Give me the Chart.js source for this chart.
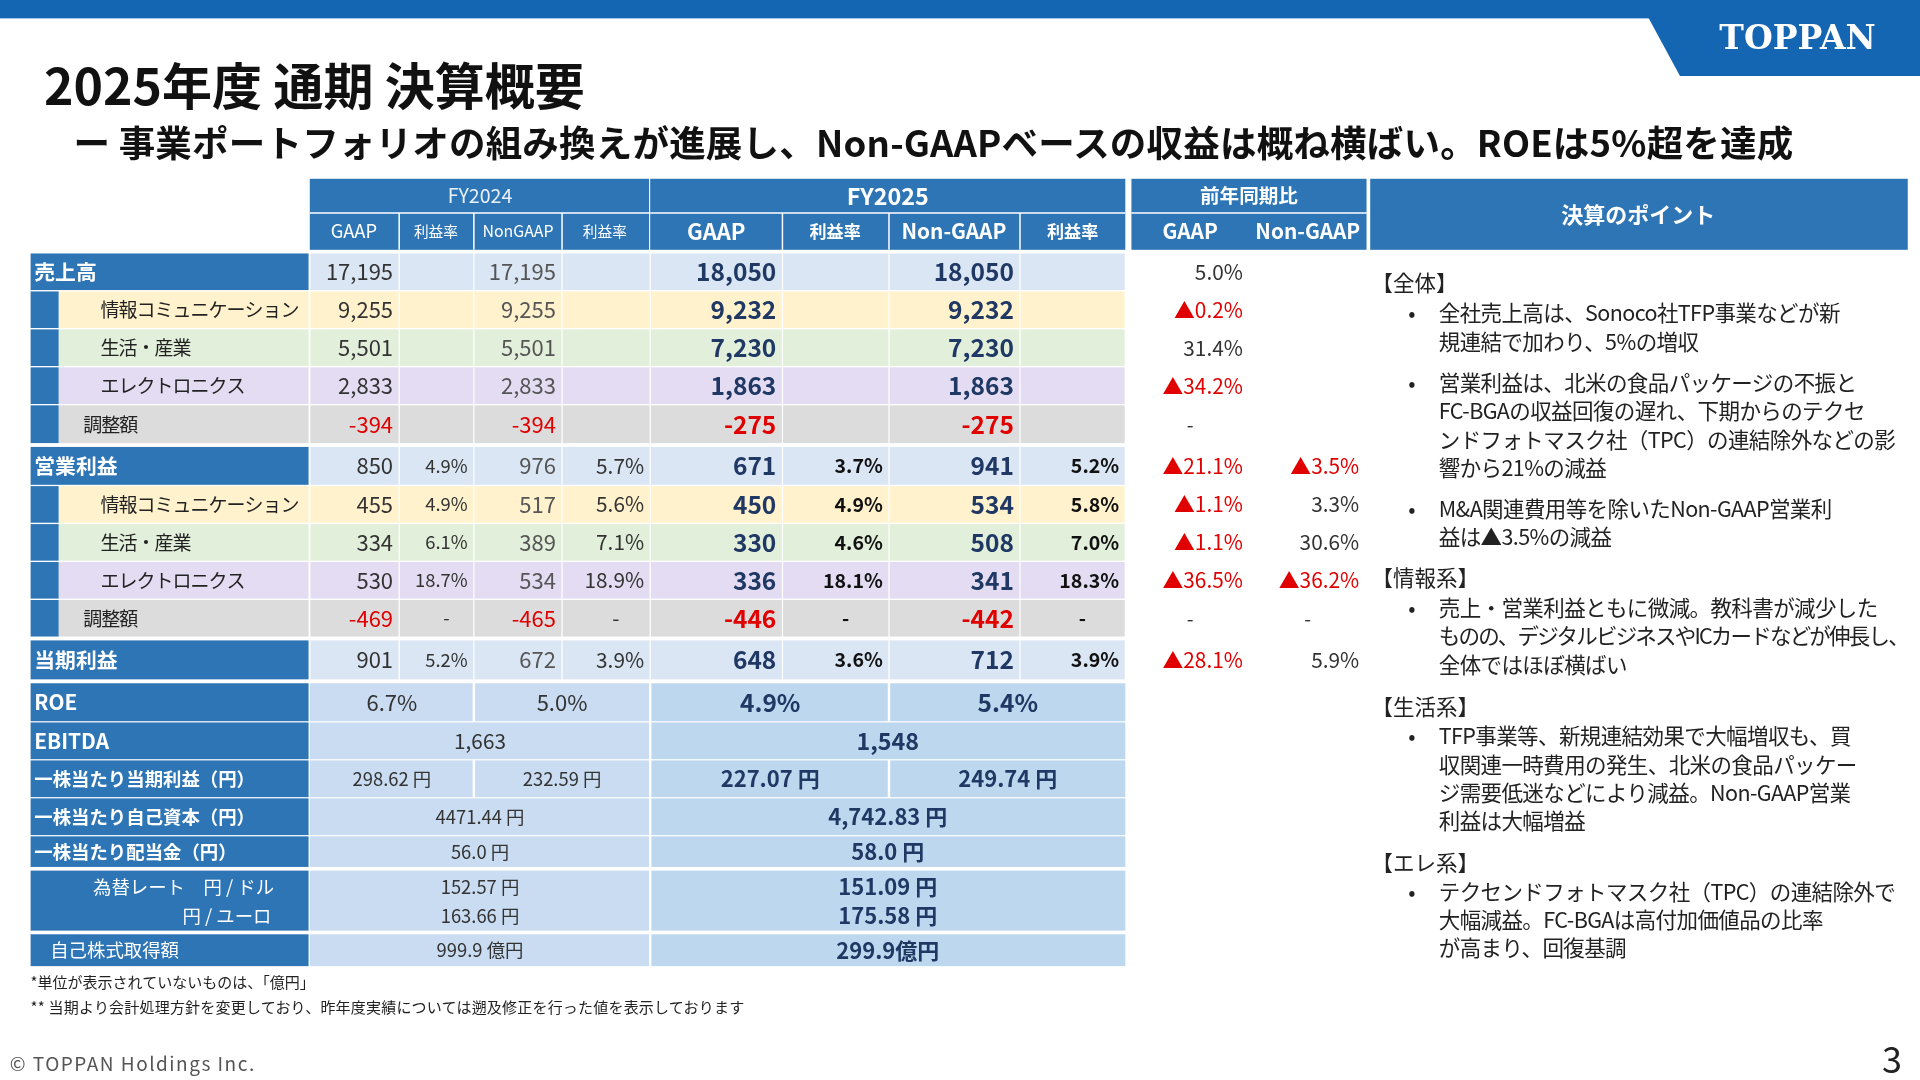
<!DOCTYPE html>
<html><head><meta charset="utf-8">
<script src="https://cdn.jsdelivr.net/npm/chart.js@4.4.1/dist/chart.umd.min.js"></script>
<style>
html,body{margin:0;padding:0;width:1920px;height:1080px;overflow:hidden;background:#fff;font-family:"Noto Sans CJK JP","Noto Sans",sans-serif;}
#c{position:absolute;left:0;top:0;}
.t{position:absolute;white-space:nowrap;color:#222;}
</style></head><body>
<canvas id="c" width="1920" height="1080"></canvas>
<div id="ov"></div>
<script>
// ---- data ----
const rowLabels=['売上高','情報コミュニケーション','生活・産業','エレクトロニクス','調整額','営業利益','情報コミュニケーション','生活・産業','エレクトロニクス','調整額','当期利益'];
const rowKinds=['main','info','life','elec','adj','main','info','life','elec','adj','main'];
const fy24Gaap=['17,195','9,255','5,501','2,833','-394','850','455','334','530','-469','901'];
const fy24GaapMargin=['','','','','','4.9%','4.9%','6.1%','18.7%','-','5.2%'];
const fy24Non=['17,195','9,255','5,501','2,833','-394','976','517','389','534','-465','672'];
const fy24NonMargin=['','','','','','5.7%','5.6%','7.1%','18.9%','-','3.9%'];
const fy25Gaap=['18,050','9,232','7,230','1,863','-275','671','450','330','336','-446','648'];
const fy25GaapMargin=['','','','','','3.7%','4.9%','4.6%','18.1%','-','3.6%'];
const fy25Non=['18,050','9,232','7,230','1,863','-275','941','534','508','341','-442','712'];
const fy25NonMargin=['','','','','','5.2%','5.8%','7.0%','18.3%','-','3.9%'];
const yoyGaap=['5.0%','▲0.2%','31.4%','▲34.2%','-','▲21.1%','▲1.1%','▲1.1%','▲36.5%','-','▲28.1%'];
const yoyNon=['','','','','','▲3.5%','3.3%','30.6%','▲36.2%','-','5.9%'];
const roe=['6.7%','5.0%','4.9%','5.4%'];
const ebitda=['1,663','1,548'];
const eps=['298.62 円','232.59 円','227.07 円','249.74 円'];
const bps=['4471.44 円','4,742.83 円'];
const dps=['56.0 円','58.0 円'];
const fxUsd=['152.57 円','151.09 円'];
const fxEur=['163.66 円','175.58 円'];
const buyback=['999.9 億円','299.9億円'];
const points=[
 ['h','【全体】',231],
 ['b','全社売上高は、Sonoco社TFP事業などが新',255],['c','規連結で加わり、5%の増収',279],
 ['b','営業利益は、北米の食品パッケージの不振と',312],['c','FC-BGAの収益回復の遅れ、下期からのテクセ',335],['c','ンドフォトマスク社（TPC）の連結除外などの影',359],['c','響から21%の減益',382],
 ['b','M&A関連費用等を除いたNon-GAAP営業利',415],['c','益は▲3.5%の減益',438],
 ['h','【情報系】',472],
 ['b','売上・営業利益ともに微減。教科書が減少した',496],['c','ものの、デジタルビジネスやICカードなどが伸長し、',519,'-1.8px'],['c','全体ではほぼ横ばい',543],
 ['h','【生活系】',577],
 ['b','TFP事業等、新規連結効果で大幅増収も、買',601],['c','収関連一時費用の発生、北米の食品パッケー',624],['c','ジ需要低迷などにより減益。Non-GAAP営業',647],['c','利益は大幅増益',670],
 ['h','【エレ系】',704],
 ['b','テクセンドフォトマスク社（TPC）の連結除外で',728],['c','大幅減益。FC-BGAは高付加価値品の比率',751],['c','が高まり、回復基調',774]
];
// ---- layout ----
const S=1920/1568;
const C=[25,253,326,387,459,531,639,726,833,919,924,1020,1116];
const rowTop=[207,238,269,300,331,365,397,428,459,490,523];
const rowBot=[237,268,299,330,362,396,427,458,489,520,555];
const kindBg={main:'#dae6f4',info:'#fff2cc',life:'#e2efda',elec:'#e4dcf2',adj:'#dcdcdc'};
const BLUE='#2e75b6',NAVY='#1f3864',RED='#e00000',DARK='#333';

const ov=document.getElementById('ov');
function ht(txt,x,yc,size,opts={}){const d=document.createElement('div');d.className='t';d.textContent=txt;
 d.style.left=(x*S)+'px';d.style.top=((yc)*S-size*0.72)+'px';d.style.fontSize=size+'px';d.style.lineHeight=(size*1.44)+'px';
 if(opts.bold)d.style.fontWeight='bold';if(opts.color)d.style.color=opts.color;if(opts.ls)d.style.letterSpacing=opts.ls;
 ov.appendChild(d);return d;}
ht('2025年度 通期 決算概要',36,68,50,{bold:true,color:'#111'});
ht('ー 事業ポートフォリオの組み換えが進展し、Non-GAAPベースの収益は概ね横ばい。ROEは5%超を達成',60,116,36.5,{bold:true,color:'#111',ls:'0.2px'});
points.forEach(p=>{ if(p[0]==='h')ht(p[1],1120,p[2],21.5); else { if(p[0]==='b')ht('•',1150,p[2],21.5); ht(p[1],1175,p[2],21.5,{ls:p[3]||'-0.6px'});} });
ht('*単位が表示されていないものは、「億円」',25,802,15);
ht('** 当期より会計処理方針を変更しており、昨年度実績については遡及修正を行った値を表示しております',25,822,15,{ls:'0.2px'});
ht('© TOPPAN Holdings Inc.',8,868,19,{color:'#555',ls:'1.5px'});
ht('3',1537,864,36,{color:'#222'});

const tablePlugin={id:'tbl',afterDraw(ch){
 const ctx=ch.ctx,xs=ch.scales.x,ys=ch.scales.y;
 const X=v=>xs.getPixelForValue(v),Y=v=>ys.getPixelForValue(v);
 const rect=(x0,y0,x1,y1,c)=>{ctx.fillStyle=c;ctx.fillRect(X(x0),Y(y0),X(x1)-X(x0),Y(y1)-Y(y0));};
 const F=(sz,b)=>(b?'bold ':'')+(sz*S).toFixed(1)+'px "Noto Sans CJK JP","Noto Sans",sans-serif';
 const tx=(s,x,y,al,sz,b,col,ls)=>{ctx.font=F(sz,b);ctx.fillStyle=col;ctx.textAlign=al;ctx.textBaseline='middle';ctx.letterSpacing=ls||'0px';ctx.fillText(s,X(x),Y(y));ctx.letterSpacing='0px';};
 const col=(s,def)=>(s.startsWith('-')&&s.length>1)||s.startsWith('▲')?RED:def;
 rect(0,0,1568,15,'#1465b2');
 ctx.fillStyle='#1465b2';ctx.beginPath();ctx.moveTo(X(1346),Y(14));ctx.lineTo(X(1568),Y(14));ctx.lineTo(X(1568),Y(62));ctx.lineTo(X(1372),Y(62));ctx.closePath();ctx.fill();
 ctx.font='bold '+(27*S)+'px "DejaVu Serif","Liberation Serif",serif';ctx.fillStyle='#fff';ctx.textAlign='center';ctx.textBaseline='middle';ctx.fillText('TOPPAN',X(1468),Y(33));
 rect(253,146,530,204,BLUE);rect(531,146,919,204,BLUE);rect(924,146,1116,204,BLUE);rect(1119,146,1558,204,BLUE);
 ctx.strokeStyle='#fff';ctx.lineWidth=1.5;
 const ln=(x0,y0,x1,y1)=>{ctx.beginPath();ctx.moveTo(X(x0),Y(y0));ctx.lineTo(X(x1),Y(y1));ctx.stroke();};
 ln(253,174,530,174);ln(531,174,919,174);ln(924,174,1116,174);
 [326,387,459].forEach(x=>ln(x,174,x,204));[639,726,833].forEach(x=>ln(x,174,x,204));
 tx('FY2024',392,160,'center',16,false,'#e8f0fa');tx('FY2025',725,160,'center',19,true,'#fff');tx('前年同期比',1020,160,'center',16,true,'#fff');
 tx('決算のポイント',1338,175,'center',18,true,'#fff');
 const sh=[['GAAP',289,15,false],['利益率',356,12,false],['NonGAAP',423,13,false],['利益率',494,12,false],['GAAP',585,18,true],['利益率',682,14,true],['Non-GAAP',779,17,true],['利益率',876,14,true],['GAAP',972,17,true],['Non-GAAP',1068,17,true]];
 sh.forEach(h=>tx(h[0],h[1],189,'center',h[2],h[3],'#fff'));
 rowLabels.forEach((lab,i)=>{
  const t=rowTop[i],b=rowBot[i],k=rowKinds[i],m=(t+b)/2,bg=kindBg[k];
  if(k==='main'){rect(25,t,252,b,BLUE);tx(lab,28,m,'left',17,true,'#fff');}
  else{rect(25,t,48,b,BLUE);rect(48,t,252,b,bg);tx(lab,k==='adj'?68:82,m,'left',15.5,false,'#222','-1px');}
  for(let j=1;j<9;j++) rect(C[j]+0.5,t,C[j+1]-0.5,b,bg);
  rect(25,b,919,b+1,'#fff');
  const r=(s,ci,sz,bld,def)=>{if(!s)return; if(s==='-'){tx(s,(C[ci]+C[ci+1])/2+8,m,'center',sz,bld,def);return;} tx(s,C[ci+1]-5,m,'right',sz,bld,col(s,def));};
  r(fy24Gaap[i],1,18,false,DARK);r(fy24GaapMargin[i],2,15,false,DARK);r(fy24Non[i],3,18,false,'#555');r(fy24NonMargin[i],4,17,false,DARK);
  r(fy25Gaap[i],5,20,true,NAVY);r(fy25GaapMargin[i],6,16,true,'#111');r(fy25Non[i],7,20,true,NAVY);r(fy25NonMargin[i],8,16,true,'#111');
  if(yoyGaap[i]==='-')tx('-',972,m,'center',16,false,DARK);else tx(yoyGaap[i],1015,m,'right',17,false,col(yoyGaap[i],DARK));
  if(yoyNon[i]==='-')tx('-',1068,m,'center',16,false,DARK);else if(yoyNon[i])tx(yoyNon[i],1110,m,'right',17,false,col(yoyNon[i],DARK));
 });
 const L1='#c9dcf1',L2='#bdd7ee';
 const lower=[[558,589,'ROE'],[590,620,'EBITDA'],[621,651,'一株当たり当期利益（円）'],[652,682,'一株当たり自己資本（円）'],[683,708,'一株当たり配当金（円）']];
 lower.forEach(([t,b,lab])=>{rect(25,t,252,b,BLUE);tx(lab,28,(t+b)/2,'left',lab.length>6?15:17,true,'#fff');});
 rect(25,711,252,760,BLUE);tx('為替レート　円 / ドル',76,724,'left',15,false,'#fff');tx('円 / ユーロ',149,748,'left',15,false,'#fff');
 rect(25,763,252,789,BLUE);tx('自己株式取得額',41,776,'left',15,false,'#fff');
 const two=(t,b,a,c,sz1,sz2)=>{rect(253,t,530,b,L1);rect(532,t,919,b,L2);tx(a,392,(t+b)/2,'center',sz1,false,DARK);tx(c,725,(t+b)/2,'center',sz2,true,NAVY);};
 const four=(t,b,v,sz1,sz2)=>{rect(253,t,386,b,L1);rect(388,t,530,b,L1);rect(532,t,725,b,L2);rect(727,t,919,b,L2);
  tx(v[0],320,(t+b)/2,'center',sz1,false,DARK);tx(v[1],459,(t+b)/2,'center',sz1,false,DARK);tx(v[2],629,(t+b)/2,'center',sz2,true,NAVY);tx(v[3],823,(t+b)/2,'center',sz2,true,NAVY);};
 four(558,589,roe,18,20);two(590,620,ebitda[0],ebitda[1],17,19);four(621,651,eps,15,18);
 two(652,682,bps[0],bps[1],15,18);two(683,708,dps[0],dps[1],15,18);
 rect(253,711,530,760,L1);rect(532,711,919,760,L2);
 tx(fxUsd[0],392,724,'center',15,false,DARK);tx(fxEur[0],392,748,'center',15,false,DARK);
 tx(fxUsd[1],725,724,'center',18,true,NAVY);tx(fxEur[1],725,748,'center',18,true,NAVY);
 two(763,789,buyback[0],buyback[1],15,18);
}};
new Chart(document.getElementById('c'),{type:'scatter',data:{datasets:[{data:[]}]},
 options:{responsive:false,animation:false,devicePixelRatio:1,layout:{padding:0},
  plugins:{legend:{display:false},tooltip:{enabled:false}},
  scales:{x:{type:'linear',min:0,max:1568,display:false},y:{type:'linear',min:0,max:882,reverse:true,display:false}}},
 plugins:[tablePlugin]});
</script></body></html>
